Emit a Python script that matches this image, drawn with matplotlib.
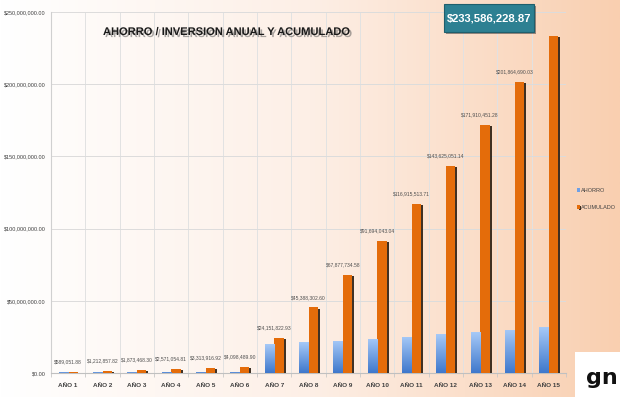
import matplotlib
matplotlib.use("Agg")
import matplotlib.pyplot as plt
import matplotlib.patheffects as pe
from matplotlib import font_manager
from matplotlib.colors import LinearSegmentedColormap
from matplotlib.patches import Rectangle
import numpy as np

categories = ["AÑO 1", "AÑO 2", "AÑO 3", "AÑO 4", "AÑO 5", "AÑO 6", "AÑO 7", "AÑO 8",
              "AÑO 9", "AÑO 10", "AÑO 11", "AÑO 12", "AÑO 13", "AÑO 14", "AÑO 15"]
acumulado = [589051.88, 1212857.82, 1873468.30, 2571054.81, 3313916.92, 4098489.90,
             24151822.93, 45388302.60, 67877734.58, 91694043.04, 116915513.71,
             143625051.14, 171910451.28, 201864690.03, 233586228.87]
ahorro = [589051.88, 623805.94, 660610.48, 697586.51, 742862.11, 784572.98,
          20053333.03, 21236479.67, 22489431.98, 23816308.46, 25221470.67,
          26709537.43, 28285400.14, 29954238.75, 31721538.84]
yticks = [0, 50e6, 100e6, 150e6, 200e6, 250e6]
title = "AHORRO / INVERSION ANUAL Y ACUMULADO"
total_label = "$233,586,228.87"

avail = {f.name for f in font_manager.fontManager.ttflist}
base = "Liberation Sans Narrow" if "Liberation Sans Narrow" in avail else "Liberation Sans"
fam = [base, "DejaVu Sans"]

W, H = 620, 397
fig = plt.figure(figsize=(W / 100, H / 100), dpi=100)
renderer = fig.canvas.get_renderer()


def fit_width(txt, target_px):
    w = txt.get_window_extent(renderer=renderer).width
    if w > 0:
        txt.set_fontsize(txt.get_fontsize() * target_px / w)


# background gradient
bg = fig.add_axes([0, 0, 1, 1], zorder=-10)
bg_cmap = LinearSegmentedColormap.from_list("bg", ["#ffffff", "#fdefe6", "#f9cfb0"])
bg.imshow(np.linspace(0, 1, 256).reshape(1, -1), aspect="auto", cmap=bg_cmap,
          extent=[0, 1, 0, 1])
bg.axis("off")

ax = fig.add_axes([51 / W, 1 - 373 / H, (566 - 51) / W, (373 - 12) / H])
ax.patch.set_alpha(0)
x = np.arange(len(categories))
bw = 0.28
blue_bars = ax.bar(x - bw / 2, ahorro, bw, color="#6fa0e6", zorder=3, label="AHORRO")
orange_bars = ax.bar(x + bw / 2, acumulado, bw, color="#e46c0a", zorder=3, label="ACUMULADO",
                     path_effects=[pe.SimplePatchShadow(offset=(1.3, -0.8), shadow_rgbFace="#2b1d10", alpha=0.9),
                                   pe.Normal()])

# gradient fill of blue bars
blue_cmap = LinearSegmentedColormap.from_list("bl", ["#3f78cc", "#a6c9f7"])
grad = np.linspace(0, 1, 100).reshape(-1, 1)
for b in blue_bars:
    x0, y0 = b.get_x(), b.get_y()
    w, h = b.get_width(), b.get_height()
    if h <= 0:
        continue
    im = ax.imshow(grad, cmap=blue_cmap, aspect="auto", origin="lower",
                   extent=[x0, x0 + w, y0, y0 + h], zorder=3.1)
    im.set_clip_path(b)

ax.set_xlim(-0.5, len(categories) - 0.5)
ax.set_ylim(0, 250e6)
ax.set_yticks(yticks)
ax.set_yticklabels(["${:,.2f}".format(v) for v in yticks], fontsize=4.0, color="#404040", family=fam)
ax.set_xticks(x)
ax.set_xticklabels(categories, fontsize=4.6, color="#404040", family=fam, fontweight="bold")
ax.set_xticks(np.arange(-0.5, len(categories), 1), minor=True)
ax.tick_params(axis="x", which="major", length=0, pad=7)
ax.tick_params(axis="x", which="minor", length=3, color="#c8c8c8")
ax.tick_params(axis="y", length=0, pad=4)
ax.grid(axis="y", which="major", color="#dcdcdc", lw=0.7, zorder=0)
ax.grid(axis="x", which="minor", color="#e2e2e2", lw=0.7, zorder=0)
for s in ["top", "right"]:
    ax.spines[s].set_visible(False)
ax.spines["left"].set_color("#d0d0d0")
ax.spines["bottom"].set_color("#c0c0c0")

# data labels (the last one is shown in the highlighted box)
for xi, v in zip(x[:-1], acumulado[:-1]):
    ax.annotate("${:,.2f}".format(v), (xi, v), xytext=(0, 5.5), textcoords="offset points",
                ha="center", va="bottom", fontsize=3.6, color="#505050", family=fam)

# legend
leg = ax.legend(loc="upper left", bbox_to_anchor=(572 / W, 1 - 183 / H), bbox_transform=fig.transFigure,
                frameon=False, prop={"family": fam, "size": 4.0}, handlelength=0.45, handleheight=0.7,
                handletextpad=0.25, labelspacing=2.2)
for t in leg.get_texts():
    t.set_color("#404040")

# title
ttl = fig.text(103 / W, 1 - 32 / H, title, fontsize=11.5, fontweight="bold", family=fam,
               color="#1a1a1a", ha="left", va="center",
               path_effects=[pe.withSimplePatchShadow(offset=(1.5, -1.5), shadow_rgbFace="#555555", alpha=0.5)])
fit_width(ttl, 248)

# total box
box = Rectangle((444 / W, 1 - 32 / H), 90 / W, 28 / H, transform=fig.transFigure,
                facecolor="#2d8092", edgecolor="#1f5f6d", lw=0.8, zorder=5,
                path_effects=[pe.SimplePatchShadow(offset=(1.2, -1.2), shadow_rgbFace="#333333", alpha=0.5),
                              pe.Normal()])
fig.patches.append(box)
tot = fig.text(489 / W, 1 - 18.5 / H, total_label, fontsize=13.5, fontweight="bold", family=fam,
               color="white", ha="center", va="center", zorder=6)
fit_width(tot, 84)

# logo box
logo = fig.add_axes([575 / W, 0, 45 / W, 45 / H])
logo.set_facecolor("white")
logo.set_xticks([]); logo.set_yticks([])
for s in logo.spines.values():
    s.set_visible(False)
logo.set_xlim(0, 1); logo.set_ylim(0, 1)
logo.text(0.24, 0.3, "gn", fontsize=16, fontweight="bold", color="#111111", family="DejaVu Sans",
          ha="left", va="baseline")

fig.savefig("out.png", dpi=100)
